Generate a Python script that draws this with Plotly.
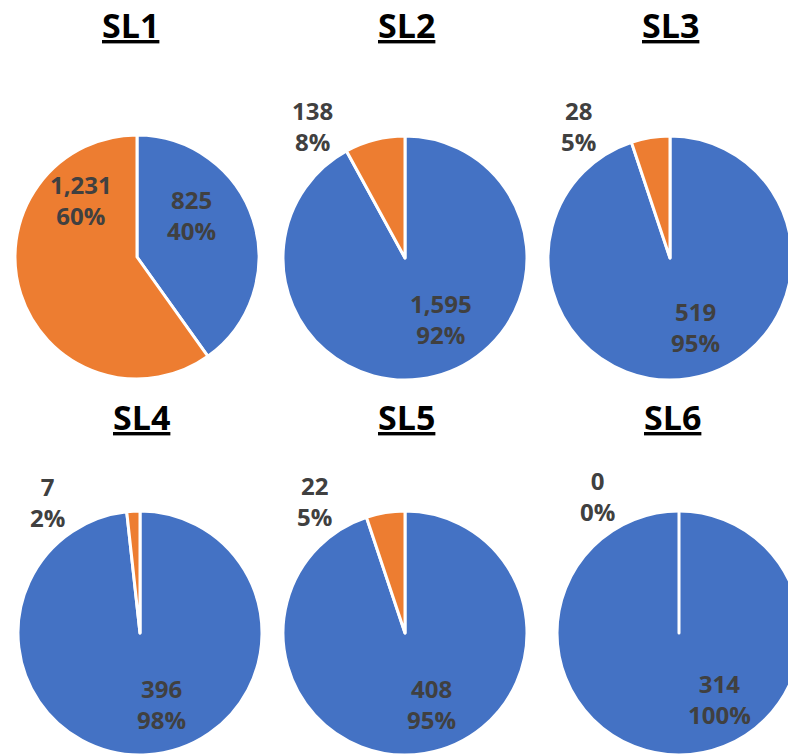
import plotly.graph_objects as go

titles = ["SL1", "SL2", "SL3", "SL4", "SL5", "SL6"]
series_names = ["Series A", "Series B"]
blue_values = [825, 1595, 519, 396, 408, 314]
orange_values = [1231, 138, 28, 7, 22, 0]

colors = ["#4472C4", "#ED7D31"]
TEXT_COLOR = "#404040"
FONT = "Open Sans"

W, H = 804, 760
R = 122
# layout: pie centres in pixels
centers = [(137, 257), (405, 258), (670, 258), (140, 633), (405, 633), (679, 633)]
title_pos = [(130, 0), (406, 0), (670, 0), (141, 392), (406, 392), (672, 392)]
# layout: label offsets (pixels from pie centre) for [blue, orange] labels
label_offsets = [
    [(54, -42), (-56, -57)],
    [(36, 61), (-93, -132)],
    [(25, 69), (-92, -132)],
    [(21, 71), (-93, -131)],
    [(26, 71), (-91, -132)],
    [(40, 66), (-82, -137)],
]

fig = go.Figure()
for i, name in enumerate(titles):
    cx, cy = centers[i]
    vals = [blue_values[i], orange_values[i]]
    total = sum(vals)
    fig.add_trace(go.Pie(
        labels=series_names,
        values=vals,
        sort=False,
        direction="clockwise",
        rotation=0,
        marker=dict(colors=colors, line=dict(color="white", width=3)),
        textinfo="none",
        domain=dict(x=[(cx - R) / W, (cx + R) / W], y=[1 - (cy + R) / H, 1 - (cy - R) / H]),
        showlegend=False,
        hoverinfo="label+value+percent",
    ))
    # data labels: value and percentage
    for v, (dx, dy) in zip(vals, label_offsets[i]):
        pct = round(100 * v / total)
        fig.add_annotation(
            text=f"<b>{v:,}<br>{pct}%</b>",
            x=(cx + dx) / W, y=1 - (cy + dy) / H, xref="paper", yref="paper",
            showarrow=False, xanchor="center", yanchor="middle", align="center",
            font=dict(family=FONT, size=24, color=TEXT_COLOR),
        )
    tx, ty = title_pos[i]
    fig.add_annotation(
        text=f"<b><u>{name}</u></b>", x=tx / W, y=1 - ty / H, xref="paper", yref="paper",
        showarrow=False, xanchor="center", yanchor="top",
        font=dict(family=FONT, size=34, color="black"),
    )

fig.update_layout(
    width=W, height=H,
    margin=dict(l=0, r=0, t=0, b=0),
    paper_bgcolor="white", plot_bgcolor="white",
)

fig.write_html("out.html", post_script="document.body.style.overflow='hidden';document.documentElement.style.overflow='hidden';document.body.style.margin='0';")
